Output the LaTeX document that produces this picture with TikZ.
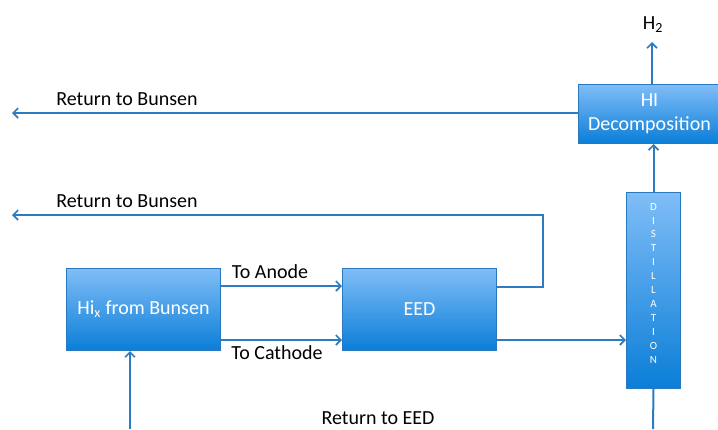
\documentclass[tikz,border=0pt]{standalone}
\usepackage{fontspec}
\setmainfont{Carlito}
\usetikzlibrary{arrows.meta}
\definecolor{lineblue}{HTML}{2E7CC0}
\definecolor{boxtop}{HTML}{80BDF7}
\definecolor{boxbot}{HTML}{0A7ED8}
\definecolor{boxedge}{HTML}{2A78BE}
\tikzset{
  x=1pt,y=-1pt,
  procbox/.style={draw=boxedge,line width=1pt,top color=boxtop,bottom color=boxbot,
    text=white,font=\fontsize{20}{24}\selectfont,align=center,inner sep=0pt,anchor=north west},
  flow/.style={draw=lineblue,line width=2pt,-{Straight Barb[length=5pt,width=10pt,line width=1.6pt]}},
  plain/.style={draw=lineblue,line width=2pt},
  lbl/.style={font=\fontsize{20}{24}\selectfont,text=black,inner sep=0pt}
}
\begin{document}
\begin{tikzpicture}
\useasboundingbox (0,0) rectangle (718,429);
% boxes
\node[procbox,minimum width=154pt,minimum height=82pt] (hix) at (66,268) {Hi\textsubscript{x} from Bunsen};
\node[procbox,minimum width=154pt,minimum height=82pt] (eed) at (342,268) {EED};
\node[procbox,minimum width=142pt,minimum height=59pt] (hid) at (578,84) {HI\\Decomposition};
\node[procbox,minimum width=54pt,minimum height=196pt,font=\fontsize{11}{13.9}\selectfont] (dist) at (626,192)
  {D\\I\\S\\T\\I\\L\\L\\A\\T\\I\\O\\N\\[1pt]};
% coordinates
\coordinate (h2end) at (652,42);
\coordinate (ret1) at (12,113);
\coordinate (c1) at (543,287);
\coordinate (c2) at (543,215);
\coordinate (ret2) at (12,215);
\coordinate (botin) at (130,429);
\coordinate (botout) at (653,429);
% labels
\node[lbl] (h2) at (653,25) {H\textsubscript{2}};
\node[lbl] (lr1) at (127,99) {Return to Bunsen};
\node[lbl] (lr2) at (127,201) {Return to Bunsen};
\node[lbl] (lan) at (270,272) {To Anode};
\node[lbl] (lca) at (277,353) {To Cathode};
\node[lbl] (lre) at (378,418) {Return to EED};
% connectors
\draw[flow] (hid.north -| h2end) -- (h2end);
\draw[flow] (hid.west |- ret1) -- (ret1);
\draw[flow] (dist.north) -- (hid.south -| dist.north);
\draw[plain] (dist.south) -- (botout);
\draw[flow] (hix.east |- 0,286) -- (eed.west |- 0,286);
\draw[flow] (hix.east |- 0,340) -- (eed.west |- 0,340);
\draw[flow] (eed.east |- c1) -- (c1) -- (c2) -- (ret2);
\draw[flow] (eed.east |- 0,340) -- (dist.west |- 0,340);
\draw[flow] (botin) -- (hix.south -| botin);
\end{tikzpicture}
\end{document}
